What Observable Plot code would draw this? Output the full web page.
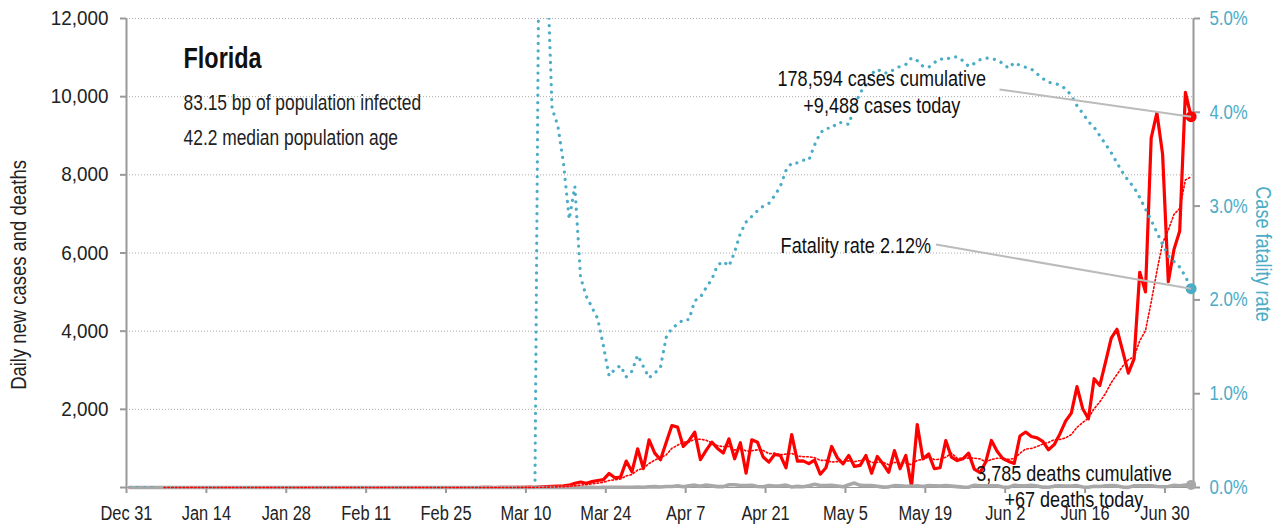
<!DOCTYPE html>
<html>
<head>
<meta charset="utf-8">
<script src="https://cdn.jsdelivr.net/npm/d3@7"></script>
<script src="https://cdn.jsdelivr.net/npm/@observablehq/plot@0.6"></script>
<style>
  html, body { margin: 0; padding: 0; background: #fff; }
  #chart svg { display: block; }
</style>
</head>
<body>
<div id="chart"></div>
<script>
// ---------- data ----------
// time stamp of the first daily record; one record per day after that
const firstRecord = "2019-12-31T14:00:00Z";

const dailyCases = [
  0,0,0,0,0,0,0,0,0,0,
  0,0,0,0,0,0,0,0,0,0,
  0,0,0,0,0,0,0,0,0,0,
  0,0,0,0,0,0,0,0,0,0,
  0,0,0,0,0,0,0,0,0,0,
  0,0,0,0,0,0,0,0,0,0,
  0,0,2,1,0,1,2,4,5,3,
  8,7,14,22,27,35,40,60,110,140,
  110,150,180,200,360,250,265,675,400,990,
  485,1220,880,710,1150,1585,1545,1050,1200,1415,
  710,950,1160,1000,880,1245,735,1145,365,1220,
  1160,780,650,845,820,505,1355,675,680,610,
  700,340,505,1050,760,605,820,540,565,820,
  365,795,605,390,945,480,820,30,1610,735,
  860,480,505,1200,775,690,735,880,470,379,
  651,1204,927,739,667,617,1317,1419,1305,1270,
  1180,966,1096,1371,1698,1902,2581,2016,1758,2783,
  2610,3207,3822,4049,3494,2926,3289,5508,5004,8942,
  9585,8530,5266,6093,6563,10109,9488
];

const dailyDeaths = [
  0,0,0,0,0,0,0,0,0,0,
  0,0,0,0,0,0,0,0,0,0,
  0,0,0,0,0,0,0,0,0,0,
  0,0,0,0,0,0,0,0,0,0,
  0,0,0,0,0,0,0,0,0,0,
  0,0,0,0,0,0,0,0,0,0,
  0,0,0,0,0,0,0,0,0,0,
  0,0,2,0,0,1,1,2,1,1,
  2,3,1,4,5,8,6,6,7,10,
  6,16,22,14,27,26,41,20,41,60,
  29,64,42,23,22,72,72,53,47,58,
  25,20,48,37,46,60,12,28,19,43,
  83,49,47,58,40,17,73,113,54,47,
  51,30,9,17,47,46,32,34,45,25,
  48,46,36,48,35,23,10,8,56,46,
  43,46,42,14,3,56,46,45,59,37,
  9,7,34,41,40,35,48,12,7,31,
  25,43,48,41,10,3,46,43,44,43,
  24,18,26,58,45,62,67
];

// case fatality rate, percent (null = not defined)
const fatalityRate = [
  0,0,0,0,0,0,null,null,null,null,
  null,null,null,null,null,null,null,null,null,null,
  null,null,null,null,null,null,null,null,null,null,
  null,null,null,null,null,null,null,null,null,null,
  null,null,null,null,null,null,null,null,null,null,
  null,null,null,null,null,null,null,null,null,null,
  null,null,null,null,null,null,null,null,null,null,
  null,0,8.3,5.8,4.04,3.86,3.46,2.86,3.21,2.24,
  2.04,1.92,1.80,1.51,1.19,1.26,1.30,1.18,1.24,1.41,
  1.29,1.17,1.22,1.28,1.60,1.70,1.74,1.79,1.79,1.99,
  2.03,2.13,2.22,2.37,2.41,2.36,2.51,2.71,2.83,2.89,
  2.95,3.00,3.03,3.11,3.21,3.38,3.46,3.46,3.49,3.49,
  3.65,3.78,3.83,3.83,3.89,3.89,3.87,4.06,4.21,4.29,
  4.41,4.46,4.42,4.42,4.46,4.49,4.51,4.58,4.55,4.49,
  4.48,4.53,4.57,4.56,4.59,4.59,4.55,4.49,4.52,4.56,
  4.58,4.57,4.56,4.52,4.47,4.53,4.50,4.48,4.46,4.41,
  4.36,4.32,4.31,4.29,4.25,4.18,4.07,3.99,3.90,3.84,
  3.75,3.66,3.57,3.46,3.36,3.27,3.20,3.09,2.97,2.85,
  2.72,2.59,2.47,2.41,2.35,2.25,2.12
];

const xTickDates = ["2019-12-31","2020-01-14","2020-01-28","2020-02-11","2020-02-25","2020-03-10",
  "2020-03-24","2020-04-07","2020-04-21","2020-05-05","2020-05-19","2020-06-02","2020-06-16","2020-06-30"];
const xDomain = ["2019-12-31", "2020-07-05"];
const caseTicks = [0, 2000, 4000, 6000, 8000, 10000, 12000];
const rateTicks = [0, 1, 2, 3, 4, 5];   // percent

const titleText = "Florida";
const infoText = ["83.15 bp of population infected", "42.2 median population age"];
const casesNote = ["178,594 cases cumulative", "+9,488 cases today"];
const rateNote = "Fatality rate 2.12%";
const deathsNote = ["3,785 deaths cumulative", "+67 deaths today"];
const leftLabel = "Daily new cases and deaths";
const rightLabel = "Case fatality rate";

// ---------- build ----------
const FONT = '"Liberation Sans", Arial, sans-serif';
const SQUEEZE = 0.82;          // narrow (condensed) rendering of the typeface
const SQUEEZE_LEFT_TICKS = 0.92;
const SQUEEZE_TITLE = 0.78;
const TEAL = "#4bacc6";
const RED = "#ff0000";
const GREY = "#a8a8a8";
const AXIS = "#999999";

const yMax = caseTicks[caseTicks.length - 1];
const rateMax = rateTicks[rateTicks.length - 1];
const rateToY = v => v * yMax / rateMax;

const t0 = new Date(firstRecord);
const rows = dailyCases.map((c, i) => ({
  date: d3.utcDay.offset(t0, i),
  cases: c,
  deaths: dailyDeaths[i],
  rate: fatalityRate[i]
}));
const last = rows[rows.length - 1];
const D = s => new Date(s);

const chart = Plot.plot({
  width: 1278,
  height: 527,
  marginTop: 18,
  marginBottom: 40,
  marginLeft: 126,
  marginRight: 85,
  style: { fontFamily: FONT, fontSize: "20px", color: "#222", background: "#fff" },
  x: { type: "utc", domain: xDomain.map(D) },
  y: { domain: [0, yMax] },
  marks: [
    // grid
    Plot.ruleY(caseTicks.filter(d => d > 0), { stroke: "#aaaaaa", strokeWidth: 1, strokeDasharray: "1,2" }),
    // axes
    Plot.axisY(caseTicks, { anchor: "left", tickSize: 6, tickPadding: 12, stroke: AXIS, strokeWidth: 2,
      fill: "#222", fontSize: 20.5, label: null,
      tickFormat: d => d === 0 ? "" : d3.format(",")(d) }),
    Plot.axisY(rateTicks.map(rateToY), { anchor: "right", tickSize: 6, tickPadding: 10, stroke: AXIS, strokeWidth: 2,
      fill: TEAL, fontSize: 20.5, label: null,
      tickFormat: d => (d * rateMax / yMax).toFixed(1) + "%" }),
    Plot.axisX(xTickDates.map(D), { tickSize: 6, tickPadding: 12, stroke: AXIS, strokeWidth: 2,
      fill: "#222", fontSize: 20, label: null, tickFormat: "%b %-d" }),
    Plot.ruleX([D(xDomain[0]), D(xDomain[1])], { stroke: AXIS, strokeWidth: 2 }),
    Plot.ruleY([0], { stroke: AXIS, strokeWidth: 1 }),
    // data
    Plot.lineY(rows, { x: "date", y: "cases", stroke: RED, strokeWidth: 3.2, strokeLinejoin: "round" }),
    Plot.lineY(rows, { x: "date", y: "deaths", stroke: GREY, strokeWidth: 3.6, strokeLinejoin: "round" }),
    Plot.lineY(rows, Plot.windowY({ k: 7, anchor: "end", strict: true, reduce: "mean" },
      { x: "date", y: "cases", stroke: RED, strokeWidth: 1.6, strokeDasharray: "1.6,2.2" })),
    Plot.lineY(rows, { x: "date", y: d => d.rate == null ? NaN : rateToY(d.rate), stroke: TEAL,
      strokeWidth: 3.2, strokeDasharray: "0.1,7.3", strokeLinecap: "round", clip: true }),
    // end points
    Plot.dot([last], { x: "date", y: "deaths", r: 5, fill: GREY }),
    Plot.dot([last], { x: "date", y: d => rateToY(d.rate), r: 5.5, fill: TEAL }),
    Plot.dot([last], { x: "date", y: "cases", r: 5.5, fill: RED }),
    // leader lines
    Plot.link([last], { x1: () => D("2020-06-01T00:00Z"), y1: () => 10184, x2: "date", y2: "cases",
      stroke: "#bbbbbb", strokeWidth: 2 }),
    Plot.link([last], { x1: () => D("2020-05-20T21:00Z"), y1: () => rateToY(2.59), x2: "date", y2: d => rateToY(d.rate),
      stroke: "#bbbbbb", strokeWidth: 2 }),
    // texts
    Plot.text([titleText], { x: () => D("2020-01-10"), y: () => 10977, textAnchor: "start",
      fontSize: 30, fontWeight: "bold", fill: "#111" }),
    Plot.text([infoText.join("\n")], { x: () => D("2020-01-10"), y: () => 9506, textAnchor: "start",
      fontSize: 21.2, lineHeight: 1.65, fill: "#222" }),
    Plot.text([casesNote.join("\n")], { x: () => D("2020-05-11T09:00Z"), y: () => 10146, textAnchor: "middle",
      fontSize: 22, lineHeight: 1.23, fill: "#111" }),
    Plot.text([rateNote], { x: () => D("2020-05-20T00:00Z"), y: () => rateToY(2.58), textAnchor: "end",
      fontSize: 22, fill: "#111" }),
    Plot.text([deathsNote.join("\n")], { x: () => D("2020-06-14T01:00Z"), y: () => 55, textAnchor: "middle",
      fontSize: 22, lineHeight: 1.2, fill: "#111" }),
    Plot.text([leftLabel], { frameAnchor: "left", textAnchor: "middle", rotate: -90, dx: -108, dy: 22,
      fontSize: 22.5, fill: "#222" }),
    Plot.text([rightLabel], { frameAnchor: "right", textAnchor: "middle", rotate: 90, dx: 70, dy: 1,
      fontSize: 22, fill: TEAL })
  ]
});
document.getElementById("chart").appendChild(chart);

// render the typeface narrow: compress every text run horizontally
chart.querySelectorAll("text").forEach(t => {
  const g = t.closest("g[aria-label]");
  let f = SQUEEZE;
  if (g && g.getAttribute("aria-label") === "y-axis tick label" && g.getAttribute("text-anchor") === "end") f = SQUEEZE_LEFT_TICKS;
  if (t.textContent === titleText) f = SQUEEZE_TITLE;
  const spans = t.querySelectorAll("tspan");
  const targets = spans.length ? Array.from(spans) : [t];
  targets.forEach(el => {
    const w = el.getComputedTextLength();
    if (w > 0) {
      el.setAttribute("textLength", (w * f).toFixed(2));
      el.setAttribute("lengthAdjust", "spacingAndGlyphs");
    }
  });
});
</script>
</body>
</html>
